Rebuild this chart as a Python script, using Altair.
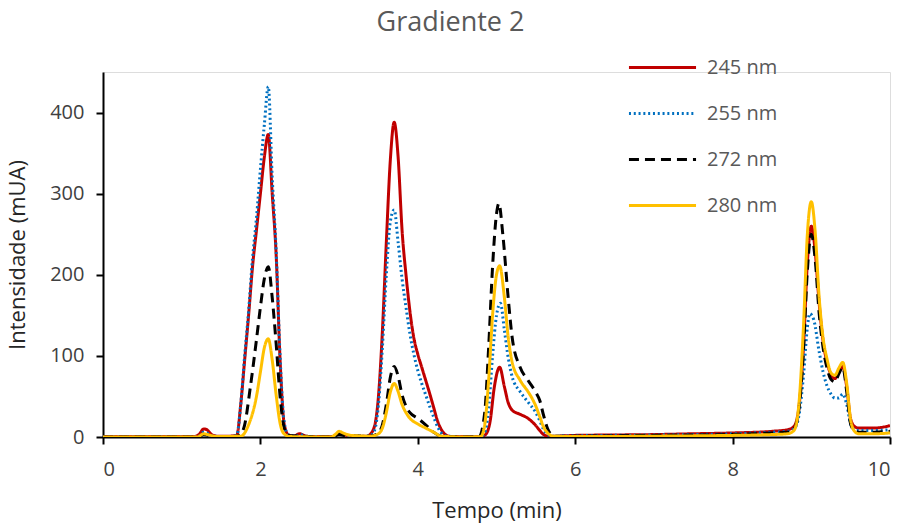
import altair as alt
import pandas as pd

# ---- data (time in min, intensity in mUA)
series_names = ["245 nm", "255 nm", "272 nm", "280 nm"]
series_colors = ["#C00000", "#0070C0", "#000000", "#FFC000"]
series_dash = [[1, 0], [2, 2.8], [10, 6], [1, 0]]

s245 = [(0, 0.5), (1.15, 0.5), (1.22, 3), (1.28, 10), (1.32, 9), (1.38, 3), (1.45, 1), (1.6, 1),
        (1.7, 2), (1.75, 40), (1.8, 95), (1.85, 150), (1.9, 210), (1.95, 255), (2.0, 300), (2.05, 345),
        (2.1, 373), (2.15, 300), (2.2, 225), (2.25, 95), (2.3, 18), (2.35, 3), (2.42, 1), (2.5, 4),
        (2.58, 1), (2.7, 0.5), (2.9, 0.5), (2.96, 2), (3.0, 5), (3.05, 3), (3.12, 2), (3.25, 1),
        (3.35, 1), (3.43, 8), (3.5, 50), (3.55, 130), (3.6, 240), (3.65, 340), (3.7, 388), (3.75, 345),
        (3.8, 255), (3.85, 200), (3.9, 155), (3.95, 122), (4.0, 102), (4.05, 86), (4.1, 70), (4.15, 54),
        (4.2, 37), (4.25, 20), (4.3, 9), (4.35, 3), (4.42, 0.5), (4.6, 0.5), (4.8, 0.5), (4.86, 3),
        (4.92, 20), (4.97, 60), (5.04, 86), (5.1, 62), (5.15, 42), (5.2, 33), (5.3, 28), (5.4, 23),
        (5.5, 14), (5.55, 8), (5.6, 3), (5.66, 1), (5.75, 1), (6.0, 2), (6.5, 2.5), (7.0, 3), (7.5, 4),
        (8.0, 5), (8.5, 7), (8.7, 9), (8.78, 13), (8.84, 35), (8.9, 110), (8.95, 215), (9.0, 260),
        (9.05, 228), (9.1, 165), (9.15, 118), (9.2, 92), (9.25, 77), (9.3, 72), (9.35, 80), (9.4, 87),
        (9.45, 62), (9.5, 22), (9.55, 13), (9.6, 11), (9.8, 11), (10.0, 14)]

s255 = [(0, 0), (1.2, 0), (1.28, 6), (1.32, 5), (1.4, 1), (1.6, 0.5), (1.7, 2), (1.75, 40), (1.8, 100),
        (1.85, 155), (1.9, 220), (1.95, 270), (2.0, 330), (2.05, 385), (2.1, 432), (2.15, 320),
        (2.2, 230), (2.25, 100), (2.3, 20), (2.35, 3), (2.45, 1), (2.5, 3), (2.6, 0.5), (2.9, 0),
        (3.0, 4), (3.1, 2), (3.3, 1), (3.4, 2), (3.45, 8), (3.5, 40), (3.55, 110), (3.6, 200),
        (3.65, 265), (3.7, 280), (3.75, 240), (3.8, 195), (3.85, 160), (3.9, 127), (3.95, 102),
        (4.0, 82), (4.05, 66), (4.1, 52), (4.15, 38), (4.2, 25), (4.25, 13), (4.3, 5), (4.38, 1),
        (4.6, 0), (4.8, 0.5), (4.85, 5), (4.9, 35), (4.95, 100), (5.0, 150), (5.05, 165), (5.1, 132),
        (5.15, 97), (5.2, 74), (5.3, 56), (5.4, 43), (5.5, 30), (5.55, 20), (5.6, 9), (5.65, 3),
        (5.72, 1), (6.0, 1.5), (7.0, 2.5), (8.0, 4), (8.5, 6), (8.7, 7), (8.78, 10), (8.84, 25),
        (8.9, 75), (8.95, 135), (8.98, 152), (9.03, 145), (9.1, 105), (9.15, 80), (9.2, 63), (9.25, 53),
        (9.3, 48), (9.35, 48), (9.4, 53), (9.45, 40), (9.5, 16), (9.55, 9), (9.6, 8), (9.8, 8), (10.0, 9)]

s272 = [(0, 0), (1.2, 0), (1.28, 3), (1.35, 2), (1.45, 0.5), (1.7, 1), (1.75, 3), (1.8, 15), (1.87, 60),
        (1.95, 120), (2.0, 160), (2.05, 195), (2.1, 210), (2.15, 172), (2.2, 115), (2.25, 50), (2.3, 12),
        (2.35, 2), (2.5, 1), (2.9, 0), (3.0, 3), (3.1, 1.5), (3.4, 1), (3.5, 5), (3.55, 15), (3.6, 40),
        (3.65, 73), (3.7, 87), (3.75, 75), (3.8, 52), (3.85, 38), (3.9, 30), (4.0, 23), (4.1, 15),
        (4.2, 6), (4.3, 1), (4.6, 0), (4.78, 0.5), (4.85, 30), (4.9, 110), (4.95, 210), (5.0, 275),
        (5.03, 288), (5.08, 250), (5.15, 170), (5.2, 122), (5.3, 86), (5.4, 70), (5.5, 55), (5.55, 45),
        (5.6, 26), (5.65, 10), (5.7, 3), (5.78, 1), (6.0, 1), (7.0, 2), (8.0, 3), (8.5, 5), (8.7, 6),
        (8.78, 10), (8.84, 32), (8.9, 105), (8.95, 205), (9.0, 250), (9.05, 218), (9.1, 152), (9.15, 110),
        (9.2, 85), (9.25, 71), (9.3, 68), (9.35, 78), (9.4, 86), (9.45, 56), (9.5, 16), (9.55, 8),
        (9.6, 6), (9.8, 6), (10.0, 7)]

s280 = [(0, 0), (1.2, 0), (1.28, 4), (1.33, 3), (1.45, 0.5), (1.75, 1), (1.85, 15), (1.95, 50), (2.0, 80),
        (2.05, 110), (2.1, 121), (2.15, 95), (2.2, 52), (2.25, 17), (2.3, 4), (2.38, 0.5), (2.9, 0),
        (2.95, 3), (3.0, 7), (3.05, 5), (3.15, 2), (3.4, 1), (3.5, 4), (3.55, 11), (3.6, 30), (3.65, 55),
        (3.7, 66), (3.75, 56), (3.8, 40), (3.85, 30), (3.9, 23), (4.0, 16), (4.1, 11), (4.2, 6), (4.3, 1),
        (4.6, 0), (4.8, 0.5), (4.85, 15), (4.9, 70), (4.95, 150), (5.0, 200), (5.04, 211), (5.1, 172),
        (5.15, 122), (5.2, 92), (5.3, 70), (5.4, 56), (5.45, 48), (5.5, 38), (5.55, 25), (5.6, 12),
        (5.65, 5), (5.72, 1), (6.0, 0.5), (7.0, 1), (8.0, 2), (8.5, 3), (8.7, 4), (8.78, 8), (8.84, 38),
        (8.9, 135), (8.95, 250), (9.0, 290), (9.05, 252), (9.1, 172), (9.15, 122), (9.2, 96), (9.25, 79),
        (9.3, 76), (9.35, 85), (9.4, 92), (9.45, 66), (9.5, 21), (9.55, 7), (9.6, 4), (9.8, 4), (10.0, 5)]

x_ticks = [0, 2, 4, 6, 8, 10]
y_ticks = [0, 100, 200, 300, 400]

rows = []
for name, pts in zip(series_names, [s245, s255, s272, s280]):
    for t, v in pts:
        rows.append({"Tempo": t, "Intensidade": v, "Serie": name})
df = pd.DataFrame(rows)

FONT = "Open Sans"

legend_cfg = dict(title=None, orient="none", legendX=524, legendY=-40,
                  symbolType="stroke", symbolSize=4500, symbolStrokeWidth=3,
                  labelFont=FONT, labelFontSize=20, labelColor="#595959",
                  rowPadding=0, labelOffset=9, padding=0, labelLimit=120)

chart = alt.Chart(df).mark_line(
    strokeWidth=3, interpolate="monotone", clip=True
).encode(
    x=alt.X("Tempo:Q", scale=alt.Scale(domain=[0, 10], nice=False),
            axis=alt.Axis(title="Tempo (min)", values=x_ticks, grid=False,
                          tickSize=7, tickWidth=2, tickColor="#000", domainColor="#000",
                          domainWidth=2, labelFontSize=20, labelColor="#404040", labelFont=FONT,
                          labelPadding=15, titleFont=FONT, titleFontSize=22, titleFontWeight=400,
                          titleColor="#262626", titlePadding=21)),
    y=alt.Y("Intensidade:Q", scale=alt.Scale(domain=[0, 450], nice=False),
            axis=alt.Axis(title="Intensidade (mUA)", values=y_ticks, grid=False,
                          tickSize=7, tickWidth=2, tickColor="#000", domainColor="#000",
                          domainWidth=2, labelFontSize=20, labelColor="#404040", labelFont=FONT,
                          labelPadding=12, titleFont=FONT, titleFontSize=22, titleFontWeight=400,
                          titleColor="#262626", titlePadding=20)),
    color=alt.Color("Serie:N", scale=alt.Scale(domain=series_names, range=series_colors),
                    legend=alt.Legend(**legend_cfg)),
    strokeDash=alt.StrokeDash("Serie:N", scale=alt.Scale(domain=series_names, range=series_dash),
                              legend=alt.Legend(**legend_cfg)),
).properties(
    width=787, height=365,
    title=alt.TitleParams("Gradiente 2", font=FONT, fontSize=27, fontWeight=400,
                          color="#595959", anchor="middle", dx=-46, dy=8, offset=3),
    padding={"left": 103, "top": 72, "right": 18, "bottom": 87},
    autosize=alt.AutoSizeParams(type="none"),
).configure_view(stroke=None).configure(background="white")

chart.save("out.html", embed_options={"renderer": "svg", "actions": False})
